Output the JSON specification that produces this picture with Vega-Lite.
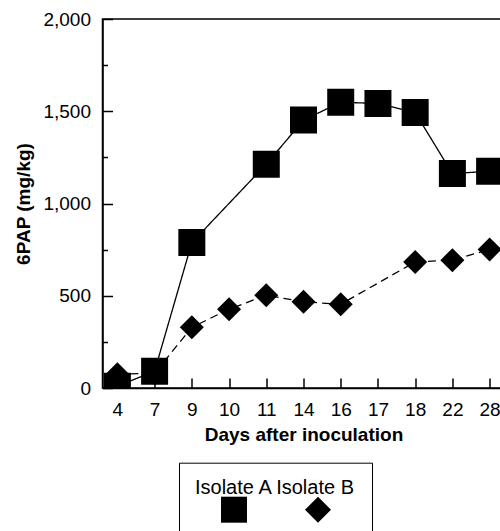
{
  "$schema": "https://vega.github.io/schema/vega-lite/v6.json",
  "width": 402,
  "height": 369,
  "autosize": "none",
  "padding": {"left": 102.5, "top": 19, "right": 0, "bottom": 143},
  "config": {
    "view": {"stroke": "black", "strokeWidth": 1.5},
    "axis": {"labelFont": "Liberation Sans", "titleFont": "Liberation Sans", "labelColor": "black", "titleColor": "black", "domainColor": "black", "tickColor": "black", "domainWidth": 1.5, "tickWidth": 1.5, "grid": false},
    "legend": {"labelFont": "Liberation Sans", "labelColor": "black"}
  },
  "data": {
    "values": [
      {"day": 4, "series": "Isolate A", "value": 10},
      {"day": 7, "series": "Isolate A", "value": 91},
      {"day": 9, "series": "Isolate A", "value": 788},
      {"day": 11, "series": "Isolate A", "value": 1213},
      {"day": 14, "series": "Isolate A", "value": 1452},
      {"day": 16, "series": "Isolate A", "value": 1549},
      {"day": 17, "series": "Isolate A", "value": 1542},
      {"day": 18, "series": "Isolate A", "value": 1493},
      {"day": 22, "series": "Isolate A", "value": 1162},
      {"day": 28, "series": "Isolate A", "value": 1175},
      {"day": 4, "series": "Isolate B", "value": 74},
      {"day": 7, "series": "Isolate B", "value": 80},
      {"day": 9, "series": "Isolate B", "value": 329},
      {"day": 10, "series": "Isolate B", "value": 427},
      {"day": 11, "series": "Isolate B", "value": 503},
      {"day": 14, "series": "Isolate B", "value": 467},
      {"day": 16, "series": "Isolate B", "value": 454},
      {"day": 18, "series": "Isolate B", "value": 683},
      {"day": 22, "series": "Isolate B", "value": 693},
      {"day": 28, "series": "Isolate B", "value": 751}
    ]
  },
  "encoding": {
    "x": {
      "field": "day", "type": "ordinal",
      "scale": {"type": "point", "padding": 0.4},
      "axis": {"labelAngle": 0, "tickSize": -10, "labelPadding": 22, "labelFontSize": 19, "title": "Days after inoculation", "titleFontSize": 19, "titleFontWeight": "bold", "titlePadding": 6}
    },
    "y": {
      "field": "value", "type": "quantitative",
      "scale": {"domain": [0, 2000], "nice": false},
      "axis": {
        "values": [0, 250, 500, 750, 1000, 1250, 1500, 1750, 2000],
        "labelExpr": "datum.value % 500 === 0 ? format(datum.value, ',') : ''",
        "tickSize": {"condition": {"test": "datum.value % 500 === 0", "value": -10}, "value": -5},
        "labelPadding": 22, "labelFontSize": 19,
        "title": "6PAP (mg/kg)", "titleFontSize": 19, "titleFontWeight": "bold", "titlePadding": 9
      }
    }
  },
  "layer": [
    {
      "mark": {"type": "line", "clip": true, "strokeWidth": 1.3},
      "encoding": {
        "color": {
          "field": "series", "type": "nominal",
          "scale": {"range": ["black", "black"]},
          "legend": {"title": null, "orient": "none", "direction": "horizontal", "legendX": 72.5, "legendY": 459, "labelFontSize": 20, "labelLimit": 400, "labelOffset": 0, "symbolSize": 0, "symbolOpacity": 0, "symbolStrokeWidth": 0, "columnPadding": 0, "padding": 0, "labelExpr": "datum.value === 'Isolate A' ? 'Isolate A Isolate B' : ''"}
        },
        "strokeDash": {"field": "series", "type": "nominal", "scale": {"range": [[1, 0], [8, 5]]}, "legend": null}
      }
    },
    {
      "mark": {"type": "point", "filled": true, "clip": true, "opacity": 1, "color": "black"},
      "encoding": {
        "shape": {
          "field": "series", "type": "nominal",
          "scale": {"domain": ["Isolate A", "Isolate B"], "range": ["square", "diamond"]},
          "legend": {"title": null, "orient": "none", "direction": "horizontal", "legendX": 76.5, "legendY": 443.7, "padding": 34, "strokeColor": "black", "symbolSize": 676, "symbolFillColor": "black", "symbolStrokeColor": "black", "symbolStrokeWidth": 0, "symbolOpacity": 1, "labelExpr": "''", "labelOffset": 7, "symbolOffset": 8, "columnPadding": 43}
        },
        "size": {"field": "series", "type": "nominal", "scale": {"range": [729, 576]}, "legend": null}
      }
    }
  ]
}
